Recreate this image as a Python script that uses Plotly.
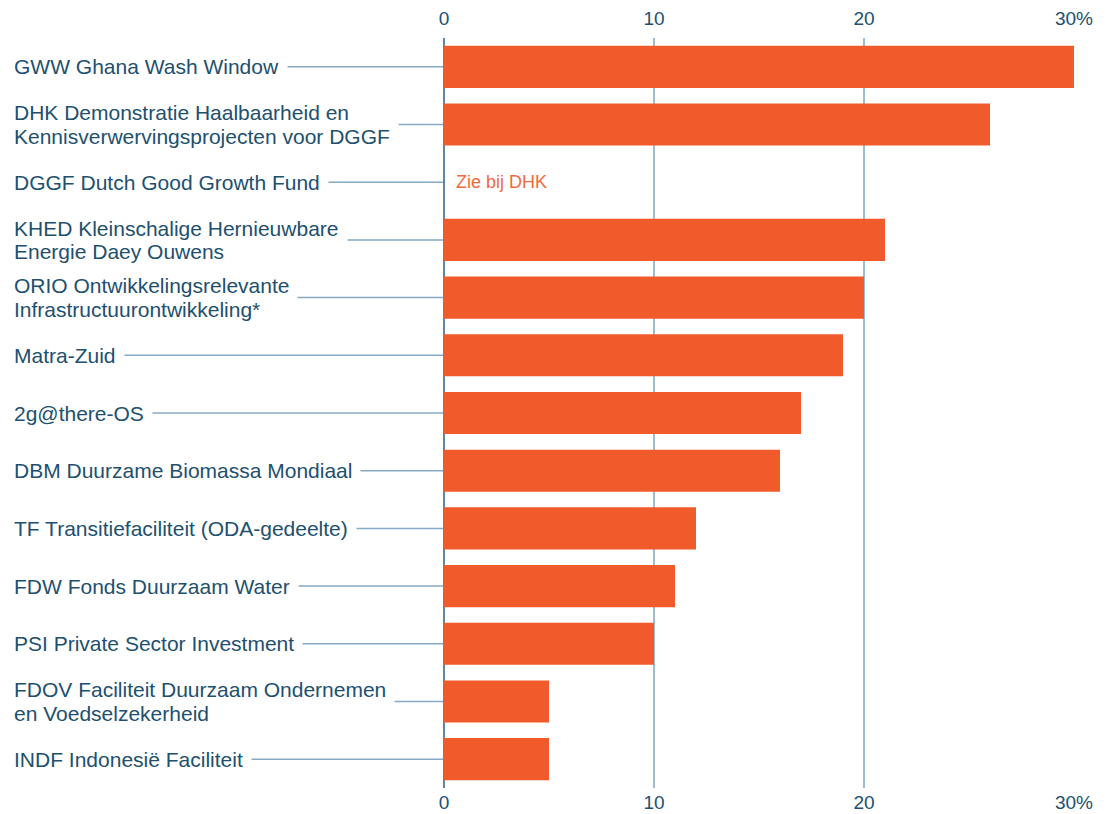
import plotly.graph_objects as go

categories = [
    "GWW Ghana Wash Window",
    "DHK Demonstratie Haalbaarheid en<br>Kennisverwervingsprojecten voor DGGF",
    "DGGF Dutch Good Growth Fund",
    "KHED Kleinschalige Hernieuwbare<br>Energie Daey Ouwens",
    "ORIO Ontwikkelingsrelevante<br>Infrastructuurontwikkeling*",
    "Matra-Zuid",
    "2g@there-OS",
    "DBM Duurzame Biomassa Mondiaal",
    "TF Transitiefaciliteit (ODA-gedeelte)",
    "FDW Fonds Duurzaam Water",
    "PSI Private Sector Investment",
    "FDOV Faciliteit Duurzaam Ondernemen<br>en Voedselzekerheid",
    "INDF Indonesië Faciliteit",
]
values = [30, 26, 0, 21, 20, 19, 17, 16, 12, 11, 10, 5, 5]
note_category = "DGGF Dutch Good Growth Fund"
note_text = "Zie bij DHK"
tick_vals = [0, 10, 20, 30]
tick_text = ["0", "10", "20", "30%"]

W, H = 1108, 814
ML, MR, MT, MB = 444, 34, 38, 26
PW = W - ML - MR

BAR = "#f15a2a"
TEXT = "#21506f"
GRID = "#9dbdd2"
ZERO = "#5f87a3"
LEAD = "#86aac3"
NOTE = "#f26a40"
FONT = "Liberation Sans"
LABEL_SIZE = 21
LINE_GAP = 23.5

ids = list(range(len(categories)))

fig = go.Figure()
fig.add_trace(go.Bar(
    x=values, y=ids, orientation="h", marker=dict(color=BAR, line=dict(width=0)),
    hoverinfo="skip", showlegend=False,
))
fig.add_trace(go.Scatter(
    x=[0], y=[0], xaxis="x2", mode="markers", marker=dict(opacity=0),
    hoverinfo="skip", showlegend=False,
))

label_px = 13
pad = 8
label_specs = []
for i, c in enumerate(categories):
    fig.add_shape(type="line", xref="paper", yref="y",
                  x0=(label_px - ML) / PW, x1=0, y0=i, y1=i,
                  line=dict(color=LEAD, width=1.5), layer="below")
    lines = c.split("<br>")
    n = len(lines)
    for k, ln in enumerate(lines):
        shift = ((n - 1) / 2 - k) * LINE_GAP
        label_specs.append((i, ln, shift))

# white masks that hide the leader line behind each label line
for i, ln, shift in label_specs:
    fig.add_annotation(xref="paper", yref="y", x=(label_px - pad - ML) / PW, y=i,
                       yshift=shift, text=ln, showarrow=False,
                       xanchor="left", yanchor="middle", align="left",
                       bgcolor="white", borderpad=pad,
                       font=dict(family=FONT, size=LABEL_SIZE, color="rgba(0,0,0,0)"))
# visible label text
for i, ln, shift in label_specs:
    fig.add_annotation(xref="paper", yref="y", x=(label_px - pad - ML) / PW, y=i,
                       yshift=shift, text=ln, showarrow=False,
                       xanchor="left", yanchor="middle", align="left",
                       borderpad=pad,
                       font=dict(family=FONT, size=LABEL_SIZE, color=TEXT))

fig.add_annotation(xref="x", yref="y", x=0, y=categories.index(note_category),
                   text=note_text, showarrow=False, xanchor="left", yanchor="middle",
                   xshift=10, font=dict(family=FONT, size=18, color=NOTE))

axis_common = dict(
    range=[0, 30], tickvals=tick_vals, ticktext=tick_text,
    tickfont=dict(family=FONT, size=19, color=TEXT),
    ticks="", fixedrange=True, automargin=False,
)
fig.update_layout(
    width=W, height=H,
    margin=dict(l=ML, r=MR, t=MT, b=MB, pad=0, autoexpand=False),
    paper_bgcolor="white", plot_bgcolor="white",
    bargap=0.27,
    xaxis=dict(side="bottom", showgrid=True, gridcolor=GRID, gridwidth=1.5,
               zeroline=True, zerolinecolor=ZERO, zerolinewidth=2,
               showline=False, ticklabelstandoff=1, **axis_common),
    xaxis2=dict(side="top", overlaying="x", showgrid=False, zeroline=False,
                showline=False, ticklabelstandoff=8, **axis_common),
    yaxis=dict(range=[len(categories) - 0.5, -0.5], showticklabels=False,
               showgrid=False, zeroline=False, showline=False, fixedrange=True,
               automargin=False),
    font=dict(family=FONT, color=TEXT),
)

fig.write_html("out.html", config={"displayModeBar": False},
               post_script="document.body.style.margin='0';document.body.style.overflow='hidden';")
